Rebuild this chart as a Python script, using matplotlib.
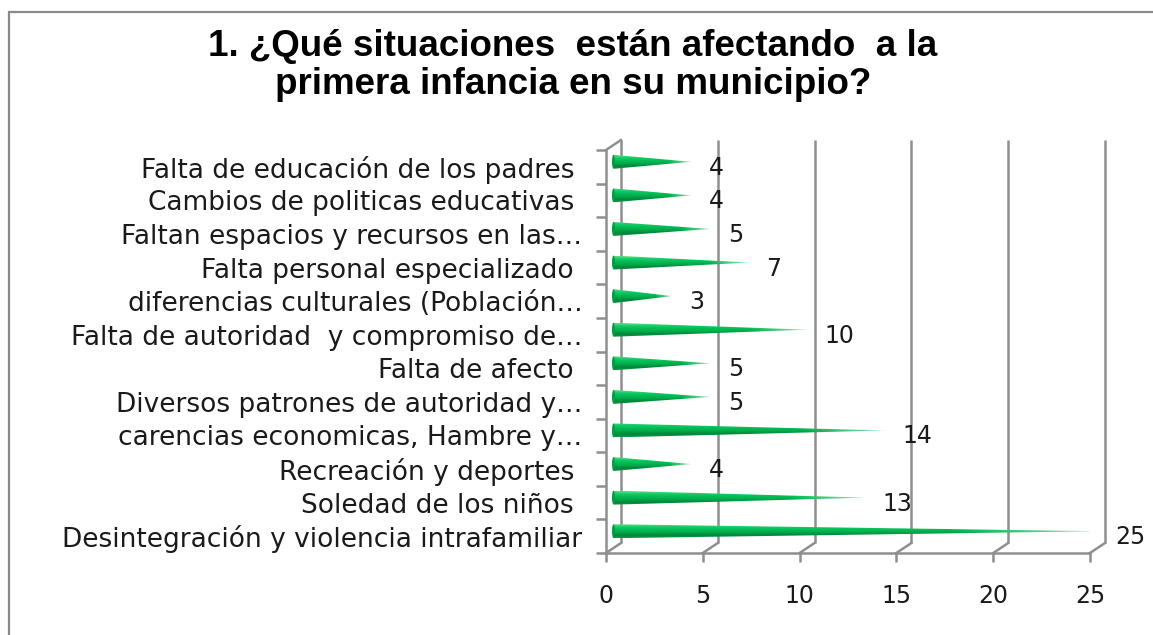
import numpy as np
import matplotlib
matplotlib.use("Agg")
import matplotlib.pyplot as plt
from matplotlib.patches import Polygon, Rectangle, Ellipse
import matplotlib.transforms as mtransforms

# ---- data (top to bottom as displayed) ----
categories = [
    "Falta de educación de los padres ",
    "Cambios de politicas educativas ",
    "Faltan espacios y recursos en las…",
    "Falta personal especializado ",
    "diferencias culturales (Población…",
    "Falta de autoridad  y compromiso de…",
    "Falta de afecto ",
    "Diversos patrones de autoridad y…",
    "carencias economicas, Hambre y…",
    "Recreación y deportes ",
    "Soledad de los niños ",
    "Desintegración y violencia intrafamiliar",
]
values = [4, 4, 5, 7, 3, 10, 5, 5, 14, 4, 13, 25]
xticks = [0, 5, 10, 15, 20, 25]
title_lines = ["1. ¿Qué situaciones  están afectando  a la",
               "primera infancia en su municipio?"]

W, H = 1153, 635
DPI = 100
fig = plt.figure(figsize=(W / DPI, H / DPI), dpi=DPI)
fig.patch.set_facecolor("white")

x0_px, x1_px = 606, 1090
ybot_px, ytop_px = 553, 150
ax = fig.add_axes([x0_px / W, 1 - ybot_px / H, (x1_px - x0_px) / W, (ybot_px - ytop_px) / H])
n = len(categories)
ax.set_xlim(0, 25)
ax.set_ylim(-0.5, n - 0.5)
ax.set_facecolor("none")

GRID = "#8f8f8f"
LW = 1.8
ppu_x = (x1_px - x0_px) / 25.0
ppu_y = (ybot_px - ytop_px) / n
DX = 15 / ppu_x
DY = 10 / ppu_y

for s in ["top", "right"]:
    ax.spines[s].set_visible(False)
for s in ["left", "bottom"]:
    ax.spines[s].set_color(GRID)
    ax.spines[s].set_linewidth(LW)

ax.set_xticks(xticks)
ax.set_xticklabels([str(t) for t in xticks])
ax.tick_params(axis="x", direction="out", length=6.5, width=LW, color=GRID,
               pad=16, labelsize=17, labelcolor="#1a1a1a")
ax.set_yticks(np.arange(-0.5, n, 1.0))
ax.set_yticklabels([])
ax.set_yticks(np.arange(n), minor=True)
ypos = np.arange(n)[::-1]
order = np.argsort(ypos)
ax.set_yticklabels([categories[i] for i in order], minor=True)
ax.tick_params(axis="y", which="major", direction="out", length=7.5, width=LW, color=GRID)
ax.tick_params(axis="y", which="minor", length=0, pad=17, labelsize=19, labelcolor="#1a1a1a")
for lab in ax.get_xticklabels() + ax.get_yticklabels(minor=True):
    lab.set_family("DejaVu Sans")

for t in xticks:
    ax.plot([t + DX, t + DX], [-0.5 + DY, n - 0.5 + DY], color=GRID, lw=LW,
            clip_on=False, solid_capstyle="butt", zorder=1)
    ax.plot([t, t + DX], [-0.5, -0.5 + DY], color=GRID, lw=LW, clip_on=False, zorder=1)
ax.plot([0, DX], [n - 0.5, n - 0.5 + DY], color=GRID, lw=LW, clip_on=False, zorder=1)

prof = np.array([
    [0.40, 0.85, 0.55],
    [0.08, 0.80, 0.40],
    [0.00, 0.74, 0.33],
    [0.00, 0.66, 0.29],
    [0.00, 0.52, 0.22],
    [0.05, 0.60, 0.28],
])
ny, nx = 40, 200
tt = np.linspace(0, 1, ny)
col = np.stack([np.interp(tt, np.linspace(0, 1, len(prof)), prof[:, k]) for k in range(3)], axis=1)

hh = 7.0 / ppu_y
for v, y in zip(values, ypos):
    yc = y + DY / 2
    xs = DX / 2
    img = np.zeros((ny, nx, 4))
    xf = np.linspace(0, 1, nx)
    fade = np.clip((1 - xf) / 0.3, 0, 1) * 0.7 + 0.3
    mix = fade[None, :, None]
    img[:, :, :3] = col[:, None, :] * mix + (1 - mix) * np.array([0.8, 0.96, 0.85])
    img[:, :, 3] = 1.0
    poly = Polygon([[xs, yc + hh], [xs + v, yc], [xs, yc - hh]], closed=True,
                   transform=ax.transData, facecolor="none", edgecolor="none")
    ax.add_patch(poly)
    im = ax.imshow(img, extent=[xs, xs + v, yc - hh, yc + hh], aspect="auto",
                   origin="upper", zorder=3, interpolation="bilinear")
    im.set_clip_path(poly)
    e = Ellipse((xs, yc), width=3.0 / ppu_x, height=2 * hh, facecolor=(0.0, 0.62, 0.27),
                edgecolor="none", zorder=3.5, clip_on=False)
    ax.add_patch(e)
    ax.text(v, y, str(v), transform=ax.transData + mtransforms.ScaledTranslation(25 / DPI, -1 / DPI, fig.dpi_scale_trans),
            ha="left", va="center", fontsize=17, color="#1a1a1a", family="DejaVu Sans",
            clip_on=False, zorder=5)

ax.set_xlim(0, 25)
ax.set_ylim(-0.5, n - 0.5)

fig.add_artist(Rectangle((9 / W, -0.1), 2.0, 1 - 12 / H + 0.1, transform=fig.transFigure,
                         fill=False, edgecolor="#8a8a8a", linewidth=1.6))

for line, base_px in zip(title_lines, [56, 94]):
    fig.text(573 / W, 1 - base_px / H, line, ha="center", va="baseline", fontsize=26.5,
             fontweight="bold", family="Liberation Sans", color="black")

fig.savefig("out.png", dpi=DPI, facecolor="white")
